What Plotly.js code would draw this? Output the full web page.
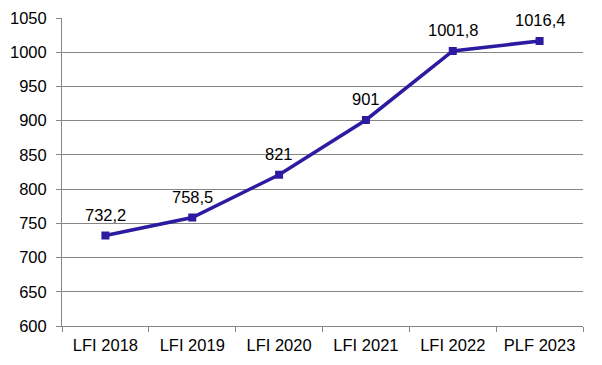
<!DOCTYPE html>
<html><head><meta charset="utf-8">
<script src="https://cdn.plot.ly/plotly-3.0.1.min.js"></script>
<style>html,body{margin:0;padding:0;background:#fff}#c{width:602px;height:365px}</style>
</head><body><div id="c"></div>
<script>
const categories = ["LFI 2018","LFI 2019","LFI 2020","LFI 2021","LFI 2022","PLF 2023"];
const values = [732.2, 758.5, 821, 901, 1001.8, 1016.4];
const labels = ["732,2","758,5","821","901","1001,8","1016,4"];
const yTicks = [600,650,700,750,800,850,900,950,1000,1050];

const FONT = 'Liberation Sans, Arial, sans-serif';
Plotly.newPlot('c', [{
  x: categories, y: values, type: 'scatter', mode: 'lines+markers',
  line: {color: '#2A1BA0', width: 3.5},
  marker: {symbol: 'square', size: 8, color: '#2A1BA0'},
  cliponaxis: false, hoverinfo: 'none'
}], {
  width: 602, height: 365,
  margin: {l: 62, r: 19, t: 18, b: 39},
  paper_bgcolor: '#fff', plot_bgcolor: '#fff',
  showlegend: false,
  font: {family: FONT, size: 16.5, color: '#000'},
  annotations: categories.map((c, i) => ({
    x: c, y: values[i], text: labels[i], showarrow: false,
    yshift: 21, font: {family: FONT, size: 16.5, color: '#000'}
  })),
  xaxis: {
    type: 'category', tickson: 'boundaries', ticks: 'outside', ticklen: 5,
    tickcolor: '#868686', showline: true, linecolor: '#868686', linewidth: 1,
    showgrid: false, zeroline: false, range: [-0.5, 5.5], fixedrange: true,
    ticklabelstandoff: 4
  },
  yaxis: {
    range: [600, 1050], tickvals: yTicks, ticktext: yTicks.map(String),
    ticks: 'outside', ticklen: 5, tickcolor: '#868686',
    showline: true, linecolor: '#868686', linewidth: 1,
    showgrid: true, gridcolor: '#868686', gridwidth: 1, zeroline: false, fixedrange: true,
    ticklabelstandoff: 6
  }
}, {displayModeBar: false, staticPlot: true});
</script></body></html>
